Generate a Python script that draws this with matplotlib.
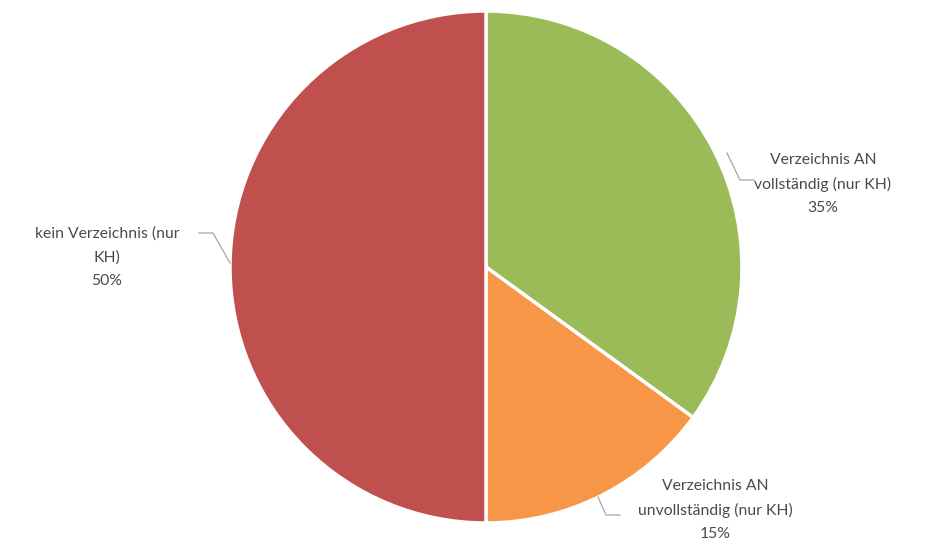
import matplotlib.pyplot as plt

# Anteile der Krankenhäuser nach Art des Verzeichnisses
labels = ["Verzeichnis AN\nvollständig (nur KH)",
          "Verzeichnis AN\nunvollständig (nur KH)",
          "kein Verzeichnis (nur\nKH)"]
values = [35, 15, 50]
colors = ["#9BBB59", "#F79646", "#C0504D"]

W, H = 928, 545
fig = plt.figure(figsize=(W / 100, H / 100), dpi=100)
ax = fig.add_axes([0, 0, 1, 1])

def px(x, y):
    # pixel (top-left origin) -> axes data coords
    return x, H - y

cx, cy = px(486, 267)
ax.pie(values, colors=colors, startangle=90, counterclock=False,
       center=(cx, cy), radius=256, frame=True,
       wedgeprops=dict(edgecolor="white", linewidth=2.5))
ax.set_xlim(0, W)
ax.set_ylim(0, H)
ax.set_aspect("equal")
ax.axis("off")

# label positions and leader lines
label_pos = [(823, 184), (715, 510), (107, 257)]
leaders = [
    [(727, 153), (740, 180), (754, 180)],
    [(598, 497), (606, 515), (620, 515)],
    [(199, 233), (213, 233), (230, 263)],
]

txt_color = "#4A4A4A"
for lab, v, (x, y), pts in zip(labels, values, label_pos, leaders):
    tx, ty = px(x, y)
    ax.text(tx, ty, f"{lab}\n{v}%", ha="center", va="center",
            fontsize=11.3, family=["Lato", "DejaVu Sans"], color=txt_color,
            linespacing=1.85)
    xs = [p[0] for p in pts]
    ys = [H - p[1] for p in pts]
    ax.plot(xs, ys, color="#A6A6A6", linewidth=0.9)

fig.savefig("out.png", dpi=100, facecolor="white")
